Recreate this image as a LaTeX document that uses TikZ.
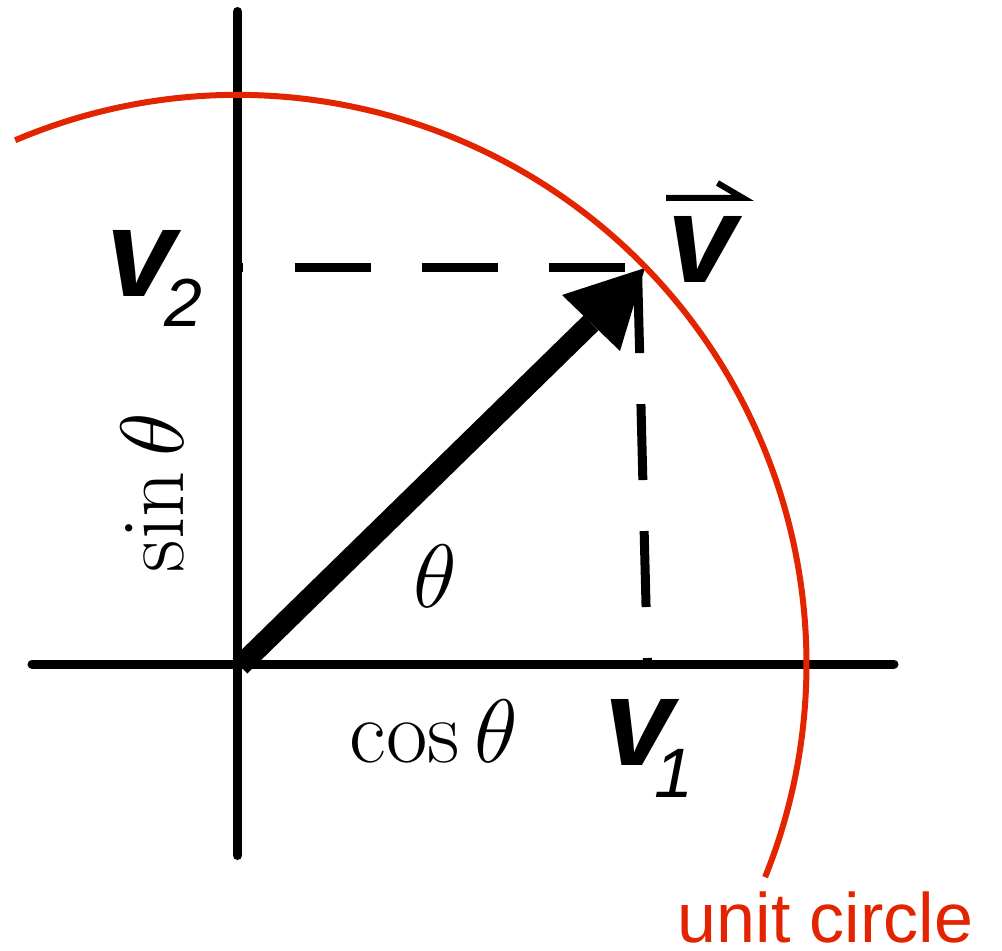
\RequirePackage{fix-cm}
\documentclass[tikz,border=0pt]{standalone}
\usepackage{fontspec}
\newfontfamily\lsans{Liberation Sans}
\definecolor{circred}{RGB}{226,36,0}
\tikzset{
  axis/.style={line width=9pt, line cap=round},
  dashline/.style={line width=9pt, dash pattern=on 76pt off 51pt, dash phase=70pt},
  vecshaft/.style={line width=21pt},
  unitarc/.style={draw=circred, line width=6pt},
  mathlbl/.style={font=\fontsize{90}{100}\selectfont, inner sep=0pt},
  vlbl/.style={font=\lsans\fontsize{125}{125}\selectfont\bfseries\itshape, inner sep=0pt},
  harpoon/.style={line width=6pt},
}
\begin{document}
\begin{tikzpicture}[x=1pt,y=1pt]
\useasboundingbox (-237.5,-287) rectangle (764.5,664);
% named points
\coordinate (O) at (0,0);
\coordinate (P) at (407.5,396);
\coordinate (B1) at (324.5,369);
\coordinate (B2) at (382.5,313);
\coordinate (M) at (353.5,341);
\coordinate (S) at (2.5,-2);
\coordinate (Ytop) at (0,652.5);
\coordinate (Ybot) at (0,-191.5);
\coordinate (Xl) at (-205.5,0);
\coordinate (Xr) at (656.5,0);
\coordinate (H0) at (0,396);
\coordinate (V0) at (410,0);
\coordinate (Vt) at (400,396);
\coordinate (A0) at (113:569);
% axes
\draw[axis] (Ytop) -- (Ybot);
\draw[axis] (Xl) -- (Xr);
% dashed projections
\draw[dashline] (H0) -- (P);
\draw[dashline] (V0) -- (Vt);
% vector
\draw[vecshaft] (S) -- (M);
\fill (P) -- (B1) -- (B2) -- cycle;
% unit circle arc
\draw[unitarc] (A0) arc[start angle=113, end angle=-22, radius=569];
% labels
\node[vlbl, anchor=base west] (v2) at (-131,367) {v\kern-12pt\raisebox{-30pt}{\fontsize{68}{68}\selectfont\mdseries 2}};
\node[vlbl, anchor=base west] (vv) at (429.5,381) {v};
\coordinate (Hl) at (428.5,466);
\coordinate (Hr) at (505.5,466);
\coordinate (Hb) at (480,481);
\draw[harpoon] (Hl) -- (Hr) -- (Hb);
\node[vlbl, anchor=base west] (v1) at (366.5,-101) {v\kern-19pt\raisebox{-32pt}{\fontsize{70}{70}\selectfont\mdseries 1}};
\node[mathlbl] (th) at (197.5,88) {$\theta$};
\node[mathlbl, anchor=base] (cs) at (196.5,-98) {$\cos\theta$};
\node[mathlbl, anchor=base, rotate=90] (sn) at (-53.5,171.5) {$\sin\theta$};
\node[font=\lsans\fontsize{70}{70}\selectfont, text=circred, anchor=base west, inner sep=0pt] (uc) at (440,-278) {unit circle};
\end{tikzpicture}
\end{document}
